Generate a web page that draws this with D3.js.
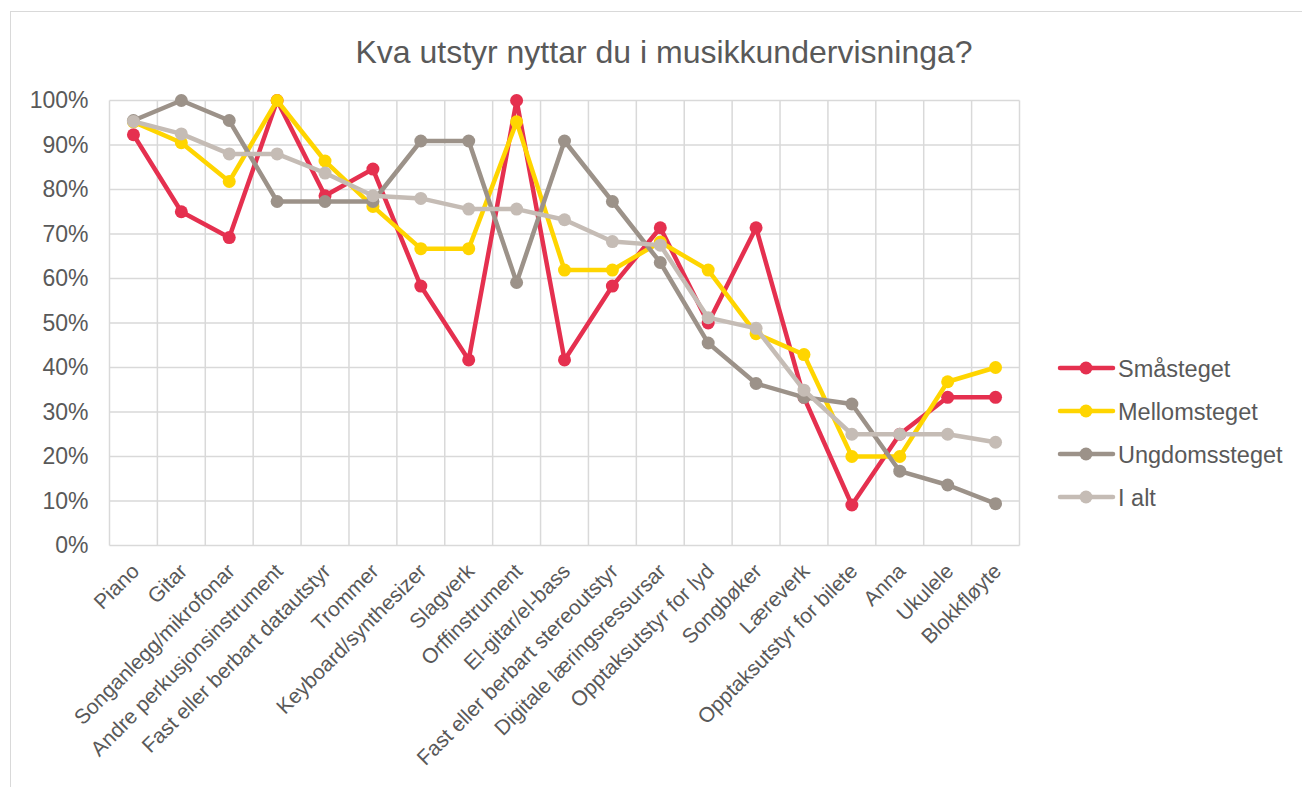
<!DOCTYPE html>
<html>
<head>
<meta charset="utf-8">
<script src="https://cdn.jsdelivr.net/npm/d3@7"></script>
<style>
  html, body { margin: 0; padding: 0; background: #fff; }
  svg { display: block; font-family: "Liberation Sans", Arial, sans-serif; }
</style>
</head>
<body>
<svg id="chart" width="1302" height="787"></svg>
<script>
const title = "Kva utstyr nyttar du i musikkundervisninga?";
const categories = ["Piano","Gitar","Songanlegg/mikrofonar","Andre perkusjonsinstrument","Fast eller berbart datautstyr","Trommer","Keyboard/synthesizer","Slagverk","Orffinstrument","El-gitar/el-bass","Fast eller berbart stereoutstyr","Digitale læringsressursar","Opptaksutstyr for lyd","Songbøker","Læreverk","Opptaksutstyr for bilete","Anna","Ukulele","Blokkfløyte"];
const seriesNames = ["Småsteget","Mellomsteget","Ungdomssteget","I alt"];
const smasteget     = [92.3, 75.0, 69.2, 100, 78.6, 84.6, 58.3, 41.7, 100, 41.7, 58.3, 71.4, 50.0, 71.4, 33.3, 9.1, 25.0, 33.3, 33.3];
const mellomsteget  = [95.2, 90.5, 81.8, 100, 86.4, 76.2, 66.7, 66.7, 95.2, 61.9, 61.9, 68.2, 61.9, 47.6, 42.9, 20.0, 20.0, 36.8, 40.0];
const ungdomssteget = [95.5, 100, 95.5, 77.3, 77.3, 77.3, 90.9, 90.9, 59.1, 90.9, 77.3, 63.6, 45.5, 36.4, 33.3, 31.8, 16.7, 13.6, 9.4];
const ialt          = [95.3, 92.5, 88.0, 88.0, 83.7, 78.6, 78.0, 75.6, 75.6, 73.2, 68.3, 67.5, 51.2, 48.8, 34.9, 25.0, 25.0, 25.0, 23.2];
const yTicks = [0,10,20,30,40,50,60,70,80,90,100];
const colors = ["#E5304F", "#FFD500", "#9C9289", "#C5BCB5"];

const seriesData = [smasteget, mellomsteget, ungdomssteget, ialt];
const svg = d3.select("#chart");
const plot = {left: 109.5, right: 1019.5, top: 100.5, bottom: 545.5};
const FONT = "Liberation Sans, Arial, sans-serif";

// outer chart border
svg.append("rect").attr("x", 10.5).attr("y", 11.5).attr("width", 1400).attr("height", 1000)
  .attr("fill", "none").attr("stroke", "#d9d9d9").attr("stroke-width", 1);

const x = d3.scaleBand().domain(categories).range([plot.left, plot.right]).padding(0);
const y = d3.scaleLinear().domain([0, 100]).range([plot.bottom, plot.top]);

// horizontal grid
svg.append("g").selectAll("line").data(yTicks).join("line")
  .attr("x1", plot.left).attr("x2", plot.right)
  .attr("y1", d => y(d)).attr("y2", d => y(d))
  .attr("stroke", "#d9d9d9").attr("stroke-width", 1.5);
// vertical grid at category boundaries
const bounds = categories.map(c => x(c)).concat([plot.right]);
svg.append("g").selectAll("line").data(bounds).join("line")
  .attr("x1", d => d).attr("x2", d => d)
  .attr("y1", plot.top).attr("y2", plot.bottom)
  .attr("stroke", "#d9d9d9").attr("stroke-width", 1.5);

// y axis labels
const yAxis = d3.axisLeft(y).tickValues(yTicks).tickFormat(d => d + "%").tickSize(0).tickPadding(21);
const yg = svg.append("g").attr("transform", `translate(${plot.left},0)`).call(yAxis);
yg.select(".domain").remove();
yg.selectAll("text").attr("fill", "#595959").attr("font-size", 23).attr("font-family", FONT);

// x axis labels
const xAxis = d3.axisBottom(x).tickSize(0).tickPadding(0);
const xg = svg.append("g").attr("transform", `translate(0,${plot.bottom})`).call(xAxis);
xg.select(".domain").remove();
xg.selectAll("text")
  .attr("fill", "#595959").attr("font-size", 21).attr("font-family", FONT)
  .attr("text-anchor", "end").attr("dy", null).attr("y", 0)
  .attr("transform", "translate(7,27) rotate(-45)");

// lines
const line = d3.line().x((d, i) => x(categories[i]) + x.bandwidth() / 2).y(d => y(d));
seriesData.forEach((vals, si) => {
  const g = svg.append("g");
  g.append("path").datum(vals).attr("d", line)
    .attr("fill", "none").attr("stroke", colors[si]).attr("stroke-width", 4.5)
    .attr("stroke-linejoin", "round").attr("stroke-linecap", "round");
  g.selectAll("circle").data(vals).join("circle")
    .attr("cx", (d, i) => x(categories[i]) + x.bandwidth() / 2)
    .attr("cy", d => y(d)).attr("r", 6.5).attr("fill", colors[si]);
});

// title
svg.append("text").attr("x", 664).attr("y", 63).attr("text-anchor", "middle")
  .attr("fill", "#595959").attr("font-size", 32).attr("font-family", FONT).text(title);

// legend
const lg = svg.append("g");
seriesNames.forEach((name, i) => {
  const yy = 368 + i * 43;
  lg.append("line").attr("x1", 1060).attr("x2", 1113).attr("y1", yy).attr("y2", yy)
    .attr("stroke", colors[i]).attr("stroke-width", 4.5).attr("stroke-linecap", "round");
  lg.append("circle").attr("cx", 1086).attr("cy", yy).attr("r", 6.5).attr("fill", colors[i]);
  lg.append("text").attr("x", 1118).attr("y", yy + 8.5).attr("fill", "#595959")
    .attr("font-size", 23.5).attr("font-family", FONT).text(name);
});
</script>
</body>
</html>
